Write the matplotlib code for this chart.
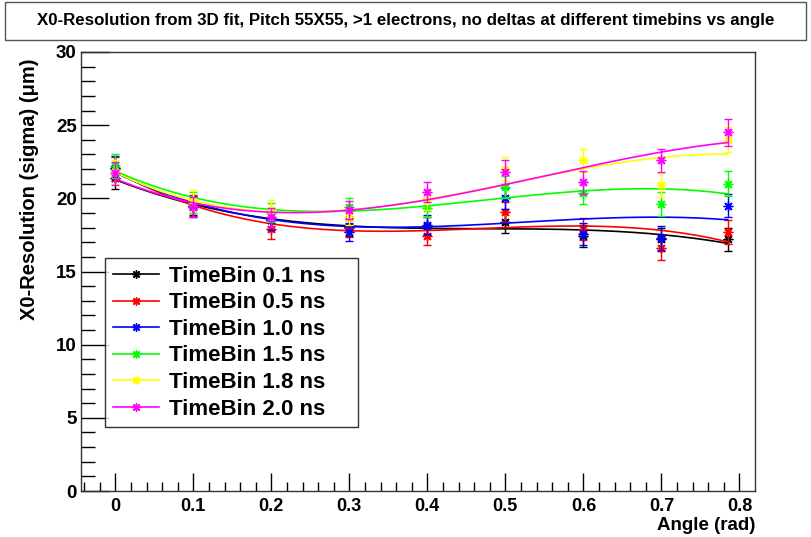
import matplotlib
matplotlib.use('Agg')
import matplotlib.pyplot as plt
from matplotlib.patches import Rectangle
import numpy as np

plt.rcParams['font.family'] = ['Liberation Sans', 'DejaVu Sans']
plt.rcParams['font.weight'] = 'bold'

angles = [0.0, 0.1, 0.2, 0.3, 0.4, 0.5, 0.6, 0.7, 0.785]

labels = ['TimeBin 0.1 ns', 'TimeBin 0.5 ns', 'TimeBin 1.0 ns',
          'TimeBin 1.5 ns', 'TimeBin 1.8 ns', 'TimeBin 2.0 ns']
colors = ['black', '#ff0000', '#0000ff', '#00ff00', '#ffff00', '#ff00ff']

tb01 = [21.4, 19.5, 18.5, 18.05, 18.1, 18.35, 17.4, 17.2, 17.2]
tb05 = [22.0, 19.5, 17.9, 17.95, 17.45, 19.05, 17.9, 16.6, 17.7]
tb10 = [22.1, 19.4, 18.5, 17.7, 18.2, 20.0, 17.55, 17.3, 19.5]
tb15 = [22.2, 19.7, 19.0, 19.4, 19.35, 20.75, 20.35, 19.6, 21.0]
tb18 = [21.8, 19.9, 19.2, 18.75, 19.9, 22.0, 22.6, 20.9, 24.0]
tb20 = [21.7, 19.4, 18.7, 19.2, 20.45, 21.8, 21.1, 22.6, 24.5]

err01 = [0.75, 0.65, 0.6, 0.6, 0.6, 0.7, 0.75, 0.8, 0.8]
err05 = [0.8, 0.7, 0.7, 0.6, 0.65, 0.7, 0.75, 0.8, 0.8]
err10 = [0.8, 0.7, 0.65, 0.6, 0.65, 0.7, 0.75, 0.8, 0.8]
err15 = [0.8, 0.7, 0.65, 0.6, 0.65, 0.75, 0.75, 0.8, 0.85]
err18 = [0.8, 0.7, 0.7, 0.6, 0.7, 0.8, 0.8, 0.8, 0.85]
err20 = [0.8, 0.7, 0.65, 0.6, 0.7, 0.8, 0.8, 0.8, 0.9]

series = [tb01, tb05, tb10, tb15, tb18, tb20]
errors = [err01, err05, err10, err15, err18, err20]

W, H = 811, 537
fig = plt.figure(figsize=(W / 100, H / 100), dpi=100)
ax = fig.add_axes([81 / W, 1 - 491 / H, (755 - 81) / W, (491 - 52) / H])

star = (8, 2, 0)
handles = []
for y, e, c, lab in zip(series, errors, colors, labels):
    ax.errorbar(angles, y, yerr=e, fmt='none', ecolor=c, elinewidth=1,
                capsize=3, capthick=1)
    ax.plot(angles, y, linestyle='none', marker=star, color=c, markersize=7,
            markeredgewidth=1)
    # pol3 fit like the original
    p = np.polyfit(angles, y, 3, w=1 / np.array(e))
    xf = np.linspace(angles[0], angles[-1], 200)
    ax.plot(xf, np.polyval(p, xf), color=c, linewidth=1.2)
    h, = ax.plot([], [], color=c, marker=star, markersize=6, markeredgewidth=1,
                 linewidth=1.2, label=lab)
    handles.append(h)

ax.set_xlim(-0.044, 0.82)
ax.set_ylim(0, 30)
ax.set_xticks(np.arange(0, 0.81, 0.1))
ax.set_xticklabels(['0', '0.1', '0.2', '0.3', '0.4', '0.5', '0.6', '0.7', '0.8'])
ax.set_xticks(np.arange(-0.04, 0.82, 0.02), minor=True)
ax.set_yticks(np.arange(0, 31, 5))
ax.set_yticks(np.arange(0, 31, 1), minor=True)
ax.tick_params(axis='x', which='major', direction='in', length=13, width=1,
               labelsize=13, pad=5, top=False)
ax.tick_params(axis='x', which='minor', direction='in', length=6.5, width=1, top=False)
ax.tick_params(axis='y', which='major', direction='in', length=20, width=1,
               labelsize=13.5, pad=3, right=False)
ax.tick_params(axis='y', which='minor', direction='in', length=10, width=1, right=False)
for s in ax.spines.values():
    s.set_linewidth(1)
    s.set_color('#333333')

fig.text(755 / W, 1 - 526 / H, 'Angle (rad)', ha='right', va='center',
         fontsize=13.5, fontweight='bold')
fig.text(30 / W, 1 - 58 / H, 'X0-Resolution (sigma) (\u03bcm)', rotation=90,
         ha='center', va='top', fontsize=14.5, fontweight='bold')

fig.patches.append(Rectangle((5 / W, 1 - 40 / H), 801 / W, 38 / H,
                             transform=fig.transFigure, facecolor='white',
                             edgecolor='#555555', linewidth=1))
fig.text(406 / W, 1 - 21 / H,
         'X0-Resolution from 3D fit, Pitch 55X55, >1 electrons, no deltas at different timebins vs angle',
         ha='center', va='center', fontsize=12.2, fontweight='bold')

leg = ax.legend(handles=handles, loc='upper left', mode='expand',
                bbox_to_anchor=(105 / W, 1 - 258 / H, (358 - 105) / W, 0),
                bbox_transform=fig.transFigure,
                borderaxespad=0, fontsize=16, frameon=True, fancybox=False,
                handlelength=2.1, handletextpad=0.45, labelspacing=0.25,
                borderpad=0.35)
leg.get_frame().set_edgecolor('black')
leg.get_frame().set_linewidth(1)
for t in leg.get_texts():
    t.set_fontweight('bold')

fig.savefig('out.png', dpi=100)
